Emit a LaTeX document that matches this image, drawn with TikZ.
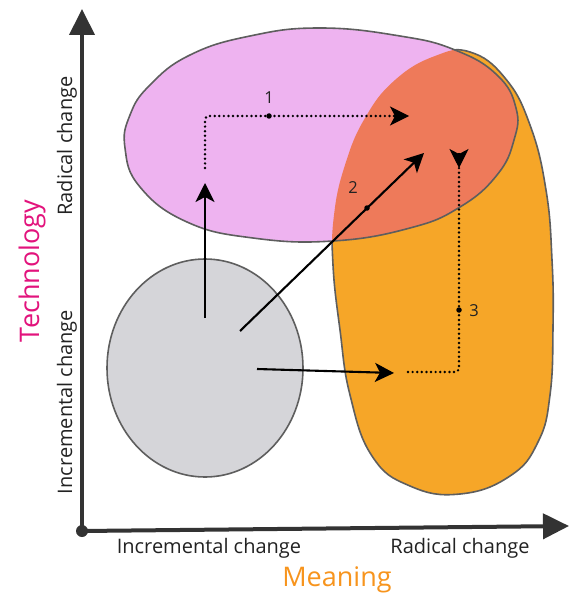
\documentclass[tikz,border=0pt]{standalone}
\usepackage{fontspec}
\setmainfont{Open Sans}
\usetikzlibrary{arrows.meta}

\definecolor{inkline}{HTML}{5E5E5E}
\definecolor{axisgray}{HTML}{333333}
\definecolor{pinkfill}{HTML}{EEB3F0}
\definecolor{orangefill}{HTML}{F6A628}
\definecolor{redfill}{HTML}{EE7A5A}
\definecolor{grayfill}{HTML}{D5D5D9}
\definecolor{techcol}{HTML}{E2137C}
\definecolor{meancol}{HTML}{F7941D}
\definecolor{textcol}{HTML}{222222}

\tikzset{
  blobline/.style={draw=inkline, line width=1.6pt},
  axisline/.style={draw=axisgray, line width=4pt, -{Triangle[length=26pt,width=25pt]}},
  movearrow/.style={draw=black, line width=2.1pt, -{Stealth[length=19pt,width=19pt,inset=5pt]}},
  pathdots/.style={draw=black, line width=2.7pt, line cap=round,
    dash pattern=on 0pt off 4.6pt, rounded corners=4pt},
  pathtip/.style={-{Stealth[length=19pt,width=19pt,inset=5pt]}},
  axislabel/.style={text=textcol, font=\fontsize{20}{24}\selectfont, inner sep=0pt},
  titlelabel/.style={font=\fontsize{27}{32}\selectfont, inner sep=0pt},
  numlabel/.style={text=textcol, font=\fontsize{16.5}{19}\selectfont, inner sep=0pt},
  pathdot/.style={fill=black, circle, inner sep=0pt, minimum size=5.5pt}
}

\begin{document}
\begin{tikzpicture}[x=1pt, y=-1pt]
  \useasboundingbox (0,0) rectangle (570,596);

  % outlines of the hand-drawn blobs
  \path[save path=\pinkblob] plot[smooth cycle, tension=0.75] coordinates {
    (125,148) (140,187) (187,222) (253,238) (333,241) (410,228) (460,207)
    (497,175) (514,140) (516,108) (497,75) (455,50) (400,36) (320,28)
    (250,36) (190,55) (150,85) (130,115)};
  \path[save path=\orangeblob] plot[smooth cycle, tension=0.75] coordinates {
    (470,52) (505,78) (530,125) (546,190) (552,260) (553,327) (550,395)
    (538,442) (510,476) (460,494) (410,486) (372,456) (350,395) (340,330)
    (333,265) (334,215) (345,165) (365,118) (395,80) (435,56)};

  % orange blob (meaning)
  \fill[orangefill, use path=\orangeblob];
  \draw[blobline, use path=\orangeblob];
  % pink blob (technology)
  \fill[pinkfill, use path=\pinkblob];
  % overlap of the two
  \begin{scope}
    \clip[use path=\pinkblob];
    \fill[redfill, use path=\orangeblob];
  \end{scope}
  \draw[blobline, use path=\pinkblob];
  % gray blob (starting point)
  \fill[grayfill] (205,368) ellipse [x radius=98pt, y radius=109pt];
  \draw[blobline] (205,368) ellipse [x radius=98pt, y radius=109pt];

  % axes
  \coordinate (O) at (82,531);
  \coordinate (Ytop) at (82,9);
  \coordinate (Xend) at (569,526);
  \draw[axisline] (O) -- (Ytop);
  \draw[axisline] (O) -- (Xend);
  \fill[axisgray] (O) circle [radius=6pt];

  % axis labels
  \node[axislabel, rotate=90] (yrad) at (67,146) {Radical change};
  \node[axislabel, rotate=90] (yinc) at (67,402) {Incremental change};
  \node[titlelabel, text=techcol, rotate=90] (ytitle) at (32,271) {Technology};
  \node[axislabel] (xinc) at (209,548) {Incremental change};
  \node[axislabel] (xrad) at (460,548) {Radical change};
  \node[titlelabel, text=meancol] (xtitle) at (337,580) {Meaning};

  % solid moves
  \coordinate (upS) at (205,318);
  \coordinate (upE) at (205,183);
  \coordinate (diS) at (240,331);
  \coordinate (diE) at (424,153);
  \coordinate (riS) at (257,369);
  \coordinate (riE) at (394,373);
  \draw[movearrow] (upS) -- (upE);
  \draw[movearrow] (diS) -- (diE);
  \draw[movearrow] (riS) -- (riE);

  % dotted continuations
  \coordinate (p1a) at (205,168);
  \coordinate (p1b) at (205,116);
  \coordinate (p1c) at (409,116);
  \draw[pathdots] (p1a) -- (p1b) -- ([xshift=-14pt]p1c);
  \draw[draw=black, line width=1.2pt, pathtip] ([xshift=-15pt]p1c) -- (p1c);

  \coordinate (p3a) at (408,372);
  \coordinate (p3b) at (459,372);
  \coordinate (p3c) at (459,168);
  \draw[pathdots] (p3a) -- (p3b) -- ([yshift=14pt]p3c);
  \draw[draw=black, line width=1.2pt, pathtip] ([yshift=15pt]p3c) -- (p3c);

  % route markers and numbers
  \node[pathdot] (d1) at (269,116) {};
  \node[numlabel] (n1) at (269,98) {1};
  \node[pathdot] (d2) at (367,208) {};
  \node[numlabel] (n2) at (353,188) {2};
  \node[pathdot] (d3) at (459,310) {};
  \node[numlabel] (n3) at (474,311) {3};
\end{tikzpicture}
\end{document}
